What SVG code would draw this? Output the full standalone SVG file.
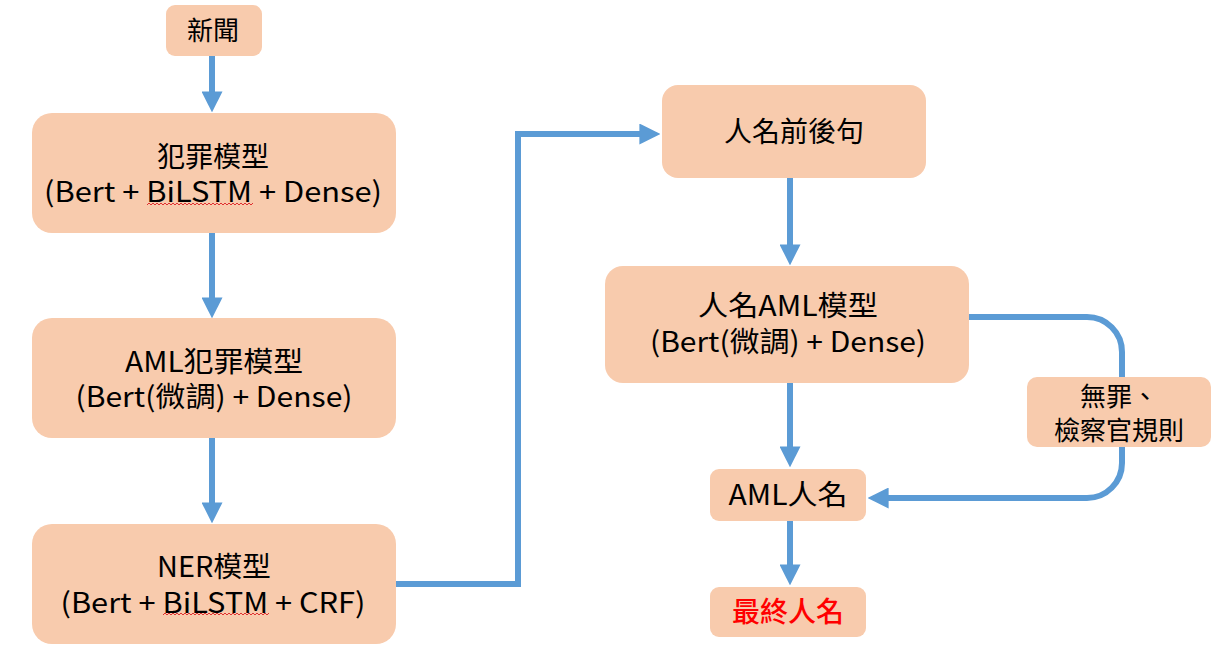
<svg xmlns="http://www.w3.org/2000/svg" width="1224" height="672" viewBox="0 0 1224 672">
<defs>
<style>
.box{fill:#F8CBAD;}
.t{font-family:"Noto Sans CJK TC","Noto Sans",sans-serif;fill:#000;text-anchor:middle;font-size:28px;font-weight:400;}
.sm{font-size:26px;}
.red{fill:#FF0000;font-weight:500;}
.conn{fill:none;stroke:#5B9BD5;stroke-width:6;}
.squig{fill:none;stroke:#E03030;stroke-width:1;}
</style>
<marker id="ah" viewBox="0 0 10 10" markerWidth="3.5" markerHeight="3.5" refX="6" refY="5" orient="auto" markerUnits="strokeWidth">
<path d="M0,0 L10,5 L0,10 z" fill="#5B9BD5"/>
</marker>
</defs>
<rect width="1224" height="672" fill="#fff"/>
<g id="connectors">
<path class="conn" d="M212,56 V104" marker-end="url(#ah)"/>
<path class="conn" d="M212,233 V310" marker-end="url(#ah)"/>
<path class="conn" d="M212,438 V515" marker-end="url(#ah)"/>
<path class="conn" d="M396,584 H518 V134 H652" marker-end="url(#ah)"/>
<path class="conn" d="M790,178 V257" marker-end="url(#ah)"/>
<path class="conn" d="M790,383 V459" marker-end="url(#ah)"/>
<path class="conn" d="M790,521 V577" marker-end="url(#ah)"/>
<path class="conn" d="M969,317 H1087 A35,35 0 0 1 1122,352 V463 A35,35 0 0 1 1087,498 H876" marker-end="url(#ah)"/>
</g>
<g id="n-news">
<rect class="box" x="166" y="5" width="96" height="51" rx="9"/>
<text class="t sm" x="213" y="40" font-weight="500">新聞</text>
</g>
<g id="n-crime">
<rect class="box" x="32" y="113" width="364" height="120" rx="20"/>
<text class="t"><tspan x="213" y="167">犯罪模型</tspan><tspan x="213" y="202" textLength="338" lengthAdjust="spacingAndGlyphs">(Bert + BiLSTM + Dense)</tspan></text>
<path class="squig" d="M147,205 l2,-2 l2,2 l2,-2 l2,2 l2,-2 l2,2 l2,-2 l2,2 l2,-2 l2,2 l2,-2 l2,2 l2,-2 l2,2 l2,-2 l2,2 l2,-2 l2,2 l2,-2 l2,2 l2,-2 l2,2 l2,-2 l2,2 l2,-2 l2,2 l2,-2 l2,2 l2,-2 l2,2 l2,-2 l2,2 l2,-2 l2,2 l2,-2 l2,2 l2,-2 l2,2 l2,-2 l2,2 l2,-2 l2,2 l2,-2 l2,2 l2,-2 l2,2 l2,-2 l2,2 l2,-2 l2,2 l2,-2 l2,2 l2,-2"/>
</g>
<g id="n-amlcrime">
<rect class="box" x="32" y="318" width="364" height="120" rx="20"/>
<text class="t"><tspan x="214" y="372" textLength="178" lengthAdjust="spacingAndGlyphs">AML犯罪模型</tspan><tspan x="214" y="407" textLength="277" lengthAdjust="spacingAndGlyphs">(Bert(微調) + Dense)</tspan></text>
</g>
<g id="n-ner">
<rect class="box" x="32" y="524" width="364" height="120" rx="20"/>
<text class="t"><tspan x="214" y="577" textLength="114" lengthAdjust="spacingAndGlyphs">NER模型</tspan><tspan x="213" y="613" textLength="305" lengthAdjust="spacingAndGlyphs">(Bert + BiLSTM + CRF)</tspan></text>
<path class="squig" d="M163,615 l2,-2 l2,2 l2,-2 l2,2 l2,-2 l2,2 l2,-2 l2,2 l2,-2 l2,2 l2,-2 l2,2 l2,-2 l2,2 l2,-2 l2,2 l2,-2 l2,2 l2,-2 l2,2 l2,-2 l2,2 l2,-2 l2,2 l2,-2 l2,2 l2,-2 l2,2 l2,-2 l2,2 l2,-2 l2,2 l2,-2 l2,2 l2,-2 l2,2 l2,-2 l2,2 l2,-2 l2,2 l2,-2 l2,2 l2,-2 l2,2 l2,-2 l2,2 l2,-2 l2,2 l2,-2 l2,2 l2,-2 l2,2 l2,-2"/>
</g>
<g id="n-context">
<rect class="box" x="662" y="85" width="264" height="93" rx="16"/>
<text class="t" x="794" y="142">人名前後句</text>
</g>
<g id="n-amlname-model">
<rect class="box" x="605" y="266" width="364" height="117" rx="18"/>
<text class="t"><tspan x="788" y="316" textLength="180" lengthAdjust="spacingAndGlyphs">人名AML模型</tspan><tspan x="788" y="352" textLength="276" lengthAdjust="spacingAndGlyphs">(Bert(微調) + Dense)</tspan></text>
</g>
<g id="n-rule">
<rect class="box" x="1027" y="377" width="184" height="70" rx="10"/>
<text class="t sm"><tspan x="1119" y="406">無罪、</tspan><tspan x="1119" y="440">檢察官規則</tspan></text>
</g>
<g id="n-amlname">
<rect class="box" x="710" y="469" width="156" height="52" rx="9"/>
<text class="t" x="788" y="505" textLength="119" lengthAdjust="spacingAndGlyphs">AML人名</text>
</g>
<g id="n-final">
<rect class="box" x="710" y="587" width="156" height="50" rx="9"/>
<text class="t red" x="788" y="622">最終人名</text>
</g>
</svg>
